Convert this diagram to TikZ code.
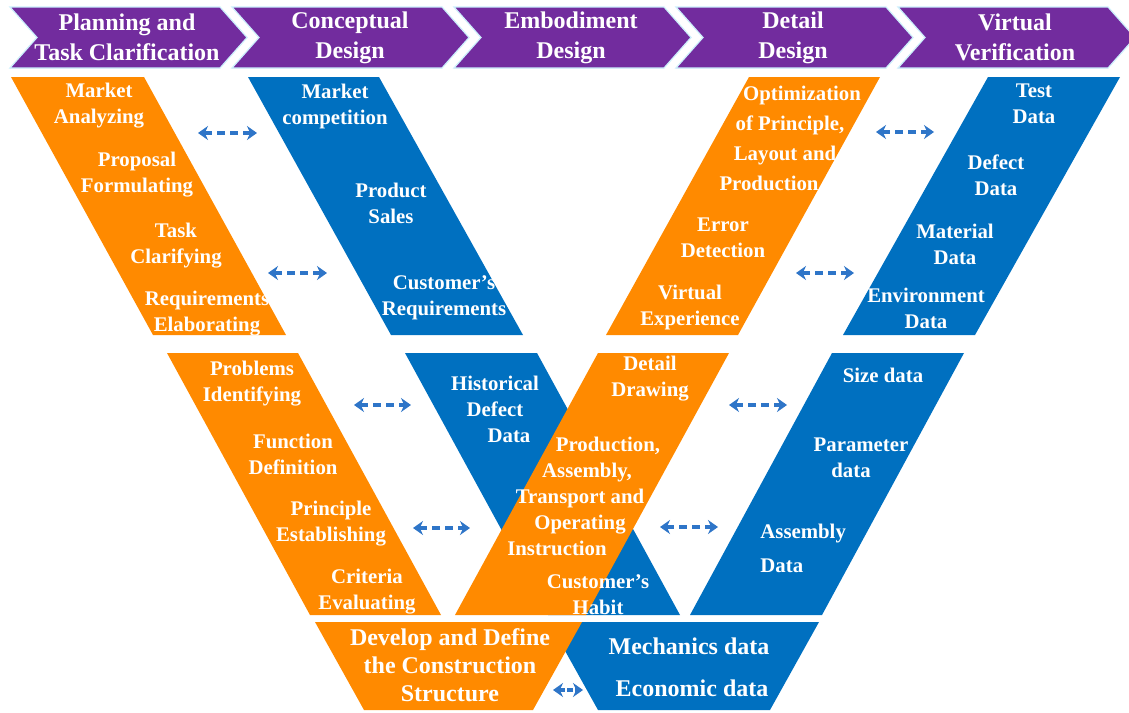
\documentclass[tikz,border=0pt]{standalone}
\usepackage{fontspec}
\setmainfont{Liberation Serif}
\usetikzlibrary{arrows.meta}

\definecolor{stagepurple}{RGB}{114,44,158}
\definecolor{bandorange}{RGB}{255,138,0}
\definecolor{bandblue}{RGB}{0,112,192}
\definecolor{linkblue}{RGB}{46,117,200}

\begin{document}
\begin{tikzpicture}[>=Stealth, x=0.5pt, y=-0.5pt]
    \tikzstyle{chev} = [fill=stagepurple, draw=cyan!20, line width=0.6pt]
    \tikzstyle{orangeband} = [fill=bandorange]
    \tikzstyle{blueband} = [fill=bandblue]
    \tikzstyle{stage} = [text=white, font=\fontsize{12}{15}\selectfont\bfseries, align=center, inner sep=0pt]
    \tikzstyle{lbl} = [text=white, font=\fontsize{10.4}{13}\selectfont\bfseries, align=center, inner sep=0pt]
    \tikzstyle{biglbl} = [text=white, font=\fontsize{12}{14}\selectfont\bfseries, align=center, inner sep=0pt]
    \tikzstyle{link} = [draw=linkblue, line width=1.8pt, dash pattern=on 4pt off 2.5pt,
                        arrows={Stealth[length=5pt, width=7pt]-Stealth[length=5pt, width=7pt]}]

    \path[use as bounding box, fill=white] (0,0) rectangle (1129,712);

    % Stage chevrons
    \fill[chev] (10,7) -- (220,7) -- (247,37.5) -- (220,68) -- (10,68) -- (37,37.5) -- cycle;
    \fill[chev] (232,7) -- (442,7) -- (469,37.5) -- (442,68) -- (232,68) -- (259,37.5) -- cycle;
    \fill[chev] (454,7) -- (664,7) -- (691,37.5) -- (664,68) -- (454,68) -- (481,37.5) -- cycle;
    \fill[chev] (676,7) -- (886,7) -- (913,37.5) -- (886,68) -- (676,68) -- (703,37.5) -- cycle;
    \fill[chev] (898,7) -- (1108,7) -- (1135,37.5) -- (1108,68) -- (898,68) -- (925,37.5) -- cycle;

    % Upper V
    \fill[orangeband] (11,77) -- (144,77) -- (286,335) -- (153,335) -- cycle;
    \fill[blueband] (248,77) -- (379,77) -- (523,335) -- (391,335) -- cycle;
    \fill[orangeband] (749,77) -- (880,77) -- (738,335) -- (606,335) -- cycle;
    \fill[blueband] (988,77) -- (1120,77) -- (975,335) -- (843,335) -- cycle;

    % Middle V
    \fill[orangeband] (167,353) -- (298,353) -- (441,615) -- (310,615) -- cycle;
    \fill[blueband] (405,353) -- (537,353) -- (680,615) -- (548,615) -- cycle;
    \fill[orangeband] (598,353) -- (729,353) -- (586,615) -- (455,615) -- cycle;
    \fill[blueband] (832,353) -- (964,353) -- (822,615) -- (690,615) -- cycle;

    % Bottom
    \fill[blueband] (549,622) -- (819,622) -- (770,710) -- (598,710) -- cycle;
    \fill[orangeband] (315,622) -- (582,622) -- (533,710) -- (364,710) -- cycle;

    % Stage names
    \node[stage] (plan) at (127,37.5) {Planning and\\Task Clarification};
    \node[stage] (concept) at (350,37.5) {Conceptual\\Design};
    \node[stage] (embody) at (571,37.5) {Embodiment\\Design};
    \node[stage] (detail) at (793,37.5) {Detail\\Design};
    \node[stage] (verify) at (1015,37.5) {Virtual\\Verification};

    % Upper V labels
    \node[lbl] (market) at (99,106) {Market\\Analyzing};
    \node[lbl] (proposal) at (137,175) {Proposal\\Formulating};
    \node[lbl] (task) at (176,246) {Task\\Clarifying};
    \node[lbl] (reqs) at (207,314) {Requirements\\Elaborating};
    \node[lbl] (compet) at (335,106) {Market\\competition};
    \node[lbl] (sales) at (391,203) {Product\\Sales};
    \node[lbl] (custreq) at (444,298) {Customer's\\Requirements};
    \node[lbl] (optim) at (785,138) {\hspace*{17pt}Optimization\\[2pt]\hspace*{5pt}of Principle,\\[2pt]Layout and\hspace*{6pt}\\[2pt]Production\hspace*{16pt}};
    \node[lbl] (error) at (723,238) {Error\\Detection};
    \node[lbl] (vexp) at (690,307) {Virtual\\Experience};
    \node[lbl] (testd) at (1034,104) {Test\\Data};
    \node[lbl] (defectd) at (996,175) {Defect\\Data};
    \node[lbl] (materiald) at (955,244) {Material\\Data};
    \node[lbl] (envd) at (926,308) {Environment\\Data};

    % Middle V labels
    \node[lbl] (problems) at (252,384) {Problems\\Identifying};
    \node[lbl] (function) at (293,454) {Function\\Definition};
    \node[lbl] (principle) at (331,524) {Principle\\Establishing};
    \node[lbl] (criteria) at (367,592) {Criteria\\Evaluating};
    \node[lbl] (histd) at (495,409) {Historical\\Defect\\\hspace*{14pt}Data};
    \node[lbl] (habit) at (598,595) {Customer's\\Habit};
    \node[lbl] (drawing) at (650,379) {Detail\\Drawing};
    \node[lbl] (instr) at (580,496) {\hspace*{28pt}Production,\\\hspace*{7pt}Assembly,\\Transport and\\Operating\hspace*{12pt}\\Instruction\hspace*{23pt}};
    \node[lbl] (sized) at (883,375) {Size data};
    \node[lbl] (paramd) at (851,458) {\hspace*{10pt}Parameter\\data};
    \node[lbl, anchor=west, align=left] (assemd) at (760,548) {Assembly\\[4pt]Data};

    % Bottom labels
    \node[biglbl] (construct) at (450,665) {Develop and Define\\the Construction\\Structure};
    \node[biglbl] (mech) at (689,646) {Mechanics data};
    \node[biglbl] (econ) at (692,688) {Economic data};

    % Arrow ends
    \coordinate (a1w) at (198,133); \coordinate (a1e) at (257,133);
    \coordinate (a2w) at (268,273); \coordinate (a2e) at (327,273);
    \coordinate (a3w) at (876,132); \coordinate (a3e) at (934,132);
    \coordinate (a4w) at (796,273); \coordinate (a4e) at (854,273);
    \coordinate (a5w) at (354,405); \coordinate (a5e) at (411,405);
    \coordinate (a6w) at (413,528); \coordinate (a6e) at (470,528);
    \coordinate (a7w) at (729,405); \coordinate (a7e) at (787,405);
    \coordinate (a8w) at (660,527); \coordinate (a8e) at (718,527);
    \coordinate (a9w) at (553,690); \coordinate (a9e) at (583,690);

    % Draw links
    \draw[link] (a1w) -- (a1e);
    \draw[link] (a2w) -- (a2e);
    \draw[link] (a3w) -- (a3e);
    \draw[link] (a4w) -- (a4e);
    \draw[link] (a5w) -- (a5e);
    \draw[link] (a6w) -- (a6e);
    \draw[link] (a7w) -- (a7e);
    \draw[link] (a8w) -- (a8e);
    \draw[link, dash pattern=on 3pt off 1pt] (a9w) -- (a9e);
\end{tikzpicture}
\end{document}
